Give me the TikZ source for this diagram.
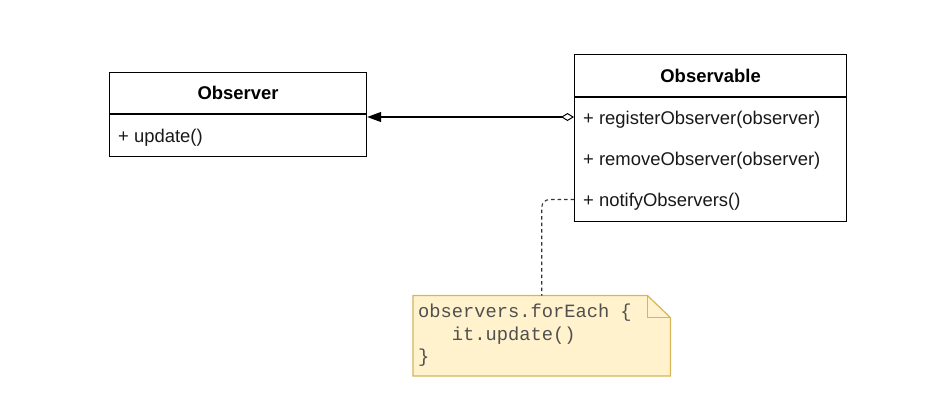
\documentclass[tikz,border=0pt]{standalone}
\usepackage{fontspec}
\setmainfont{Liberation Sans}
\setmonofont{Liberation Mono}
\usetikzlibrary{arrows.meta}
\definecolor{notefill}{HTML}{FFF2CC}
\definecolor{noteline}{HTML}{D6B656}
\definecolor{monotext}{HTML}{505050}
\begin{document}
\begin{tikzpicture}[x=1bp,y=-1bp,
  every node/.style={font=\fontsize{18.5}{22}\selectfont},
  classbox/.style={draw=black, line width=1.2bp, fill=white, anchor=north west, inner sep=0pt},
  member/.style={anchor=west, inner sep=0pt, text=black!90},
  conn/.style={line width=1.2bp, draw=black},
  notelink/.style={line width=1.1bp, draw=black!80, dash pattern=on 3.5bp off 3bp, rounded corners=8bp}
]
\useasboundingbox (0,0) rectangle (940,410);

% Observer class
\node[classbox, minimum width=257bp, minimum height=41bp] (obsHead) at (109,71.5) {\textbf{Observer}};
\node[classbox, minimum width=257bp, minimum height=42bp] (obsBody) at (obsHead.south west) {};
\node[member] (upd) at (118,137.5) {+ update()};

% Observable class
\node[classbox, minimum width=272bp, minimum height=42bp] (obvHead) at (574,54) {\textbf{Observable}};
\node[classbox, minimum width=272bp, minimum height=124bp] (obvBody) at (obvHead.south west) {};
\node[member] (reg) at (583,119.5) {+ registerObserver(observer)};
\node[member] (rem) at (583,160.5) {+ removeObserver(observer)};
\node[member] (notif) at (583,202) {+ notifyObservers()};

% aggregation connector
\coordinate (linkY) at (0,117);
\draw[conn, {Diamond[open,length=13bp,width=8bp,line width=1bp]}-{Triangle[length=14bp,width=10bp]}]
  (obvBody.west |- linkY) -- (obsBody.east |- linkY);

% note
\node[minimum width=257bp, minimum height=80bp, anchor=north west, inner sep=0pt] (note) at (413,295.5) {};
\draw[draw=noteline, fill=notefill, line width=1.2bp]
  (note.north west) -- ([xshift=-23bp]note.north east) -- ([yshift=-22bp]note.north east)
  -- (note.south east) -- (note.south west) -- cycle;
\draw[draw=noteline, line width=1.2bp]
  ([xshift=-23bp]note.north east) -- ([xshift=-23bp,yshift=-22bp]note.north east) -- ([yshift=-22bp]note.north east);
\node[anchor=north west, inner sep=0pt, align=left, text=monotext,
      font=\fontsize{18.8}{22.5}\selectfont\ttfamily] (code) at (418,304)
  {observers.forEach \{\\\phantom{abc}it.update()\\\}};

% note link
\coordinate (noteY) at (0,199.5);
\draw[notelink] (obvBody.west |- noteY) -| (note.north);
\end{tikzpicture}
\end{document}
